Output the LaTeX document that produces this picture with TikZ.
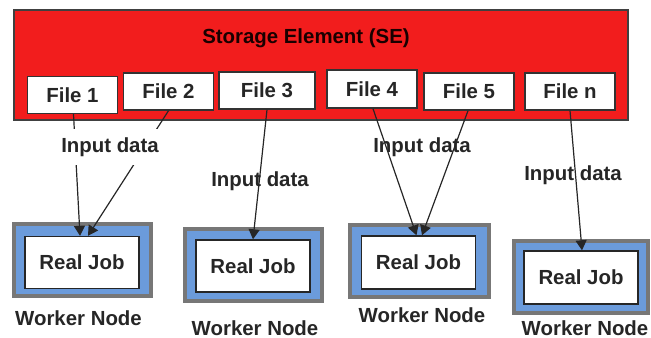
\documentclass[tikz,border=0pt]{standalone}
\usepackage{fontspec}
\setmainfont{Liberation Sans}
\usetikzlibrary{arrows.meta,calc}
\definecolor{sered}{HTML}{F21D1D}
\definecolor{wngray}{HTML}{777777}
\definecolor{wnblue}{HTML}{6B9BDB}
\definecolor{txt}{HTML}{262626}
\tikzset{
  every node/.style={font=\fontsize{10.2pt}{12pt}\selectfont\bfseries, text=txt},
  filebox/.style={draw=black!80, line width=0.7pt, fill=white, minimum width=45pt, minimum height=18.5pt, inner sep=0pt},
  wnframe/.style={draw=wngray, line width=2pt, fill=wnblue, minimum width=68.5pt, minimum height=36pt, inner sep=0pt},
  jobbox/.style={draw=black!85, line width=0.7pt, fill=white, minimum width=57pt, minimum height=26pt, inner sep=0pt},
  conn/.style={draw=black!85, line width=0.6pt, -{Triangle[length=5pt,width=5.5pt]}},
  inlabel/.style={inner sep=0pt},
}
\begin{document}
\begin{tikzpicture}[x=0.5pt,y=-0.5pt]
\useasboundingbox (0,0) rectangle (651,337);
% Storage element
\node[draw=black!75, line width=0.7pt, fill=sered, minimum width=307pt, minimum height=55pt, inner sep=0pt] (se) at (321,65) {};
\node[text=black!90!red] (title) at (306,38) {Storage Element (SE)};
% files
\node[filebox] (f1) at (72.5,95) {File 1};
\node[filebox] (f2) at (168.5,91.5) {File 2};
\node[filebox, minimum width=48pt] (f3) at (267,90.5) {File 3};
\node[filebox, minimum height=19pt] (f4) at (372,89) {File 4};
\node[filebox] (f5) at (469,91.5) {File 5};
\node[filebox] (fn) at (570,91.5) {File n};
% worker nodes
\node[wnframe] (wn1) at (82.5,260) {};
\node[jobbox] (job1) at (82,262.5) {Real Job};
\node[wnframe] (wn2) at (253,265) {};
\node[jobbox] (job2) at (253,266) {Real Job};
\node[wnframe, minimum width=69.5pt] (wn3) at (419,261) {};
\node[jobbox, minimum height=26.5pt] (job3) at (418.5,262.5) {Real Job};
\node[wnframe, minimum width=67pt] (wn4) at (581,277) {};
\node[jobbox, minimum height=26.5pt] (job4) at (581,277.5) {Real Job};
\node (wl1) at (78.5,318) {Worker Node};
\node (wl2) at (255,328) {Worker Node};
\node (wl3) at (422,315) {Worker Node};
\node (wl4) at (585,328) {Worker Node};
% connectors
\draw[conn] ($(f1.south)+(1,0)$) -- ($(job1.north)+(-2,0)$);
\draw[conn] (f2.south) -- ($(job1.north)+(6,0)$);
\draw[conn] (f3.south) -- (job2.north);
\draw[conn] ($(f4.south)+(1,0)$) -- ($(job3.north)+(-2,0)$);
\draw[conn] ($(f5.south)+(-1,0)$) -- ($(job3.north)+(3.5,0)$);
\draw[conn] (fn.south) -- ($(job4.north)+(1,0)$);
% labels
\node[fill=white, inner xsep=1pt, inner ysep=4pt] (l1) at (110,147) {Input data};
\node[inlabel] (l2) at (260,181) {Input data};
\node[inlabel] (l3) at (422,147) {Input data};
\node[inlabel] (l4) at (573,175) {Input data};
\end{tikzpicture}
\end{document}
